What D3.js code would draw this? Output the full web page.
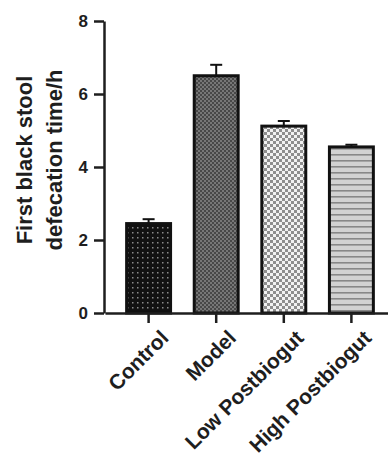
<!DOCTYPE html>
<html>
<head>
<meta charset="utf-8">
<script src="https://cdn.jsdelivr.net/npm/d3@7"></script>
<style>
  body { margin: 0; background: #fff; }
  svg { display: block; }
  .axis text { font-family: "Liberation Sans", Arial, sans-serif; font-weight: bold; fill: #1e1e1e; }
  .axis path, .axis line { stroke: #1e1e1e; }
</style>
</head>
<body>
<div id="chart"></div>
<script>
// groups and their means / SEM
const groups = ["Control", "Model", "Low Postbiogut", "High Postbiogut"];
const means = [2.45, 6.5, 5.12, 4.55];
const errs = [0.12, 0.3, 0.14, 0.06];
const yTicks = [0, 2, 4, 6, 8];
const patternIds = ["pDots", "pFine", "pChecker", "pStripes"];

const width = 388, height = 462;
const margin = { top: 21, left: 104 };
const plotH = 292;

const svg = d3.select("#chart").append("svg")
    .attr("width", width)
    .attr("height", height);

// fill patterns for the bars
const defs = svg.append("defs");

const dots = defs.append("pattern").attr("id", "pDots")
    .attr("patternUnits", "userSpaceOnUse").attr("width", 5).attr("height", 5);
dots.append("rect").attr("width", 5).attr("height", 5).attr("fill", "#111");
dots.append("rect").attr("x", 2).attr("y", 2).attr("width", 1.5).attr("height", 1.5).attr("fill", "#8a8a8a");

const fine = defs.append("pattern").attr("id", "pFine")
    .attr("patternUnits", "userSpaceOnUse").attr("width", 4).attr("height", 4);
fine.append("rect").attr("width", 4).attr("height", 4).attr("fill", "#484848");
fine.append("rect").attr("width", 2).attr("height", 2).attr("fill", "#777");
fine.append("rect").attr("x", 2).attr("y", 2).attr("width", 2).attr("height", 2).attr("fill", "#777");

const checker = defs.append("pattern").attr("id", "pChecker")
    .attr("patternUnits", "userSpaceOnUse").attr("width", 6).attr("height", 6);
checker.append("rect").attr("width", 6).attr("height", 6).attr("fill", "#f2f2f2");
checker.append("rect").attr("width", 3).attr("height", 3).attr("fill", "#8e8e8e");
checker.append("rect").attr("x", 3).attr("y", 3).attr("width", 3).attr("height", 3).attr("fill", "#8e8e8e");

const stripes = defs.append("pattern").attr("id", "pStripes")
    .attr("patternUnits", "userSpaceOnUse").attr("width", 6).attr("height", 6);
stripes.append("rect").attr("width", 6).attr("height", 6).attr("fill", "#d2d2d2");
stripes.append("rect").attr("y", 4).attr("width", 6).attr("height", 1.6).attr("fill", "#888");

// scales
const x = d3.scaleBand()
    .domain(groups)
    .range([105, 395])
    .paddingInner(0.35)
    .paddingOuter(0.32);

const y = d3.scaleLinear()
    .domain([0, 8])
    .range([margin.top + plotH, margin.top]);

// bars
svg.append("g").selectAll("rect")
    .data(groups)
    .join("rect")
    .attr("x", d => x(d))
    .attr("y", (d, i) => y(means[i]))
    .attr("width", x.bandwidth())
    .attr("height", (d, i) => y(0) - y(means[i]))
    .attr("fill", (d, i) => `url(#${patternIds[i]})`)
    .attr("stroke", "#111")
    .attr("stroke-width", 3);

// error bars (upper only)
const eb = svg.append("g").attr("stroke", "#111").attr("stroke-width", 2);
eb.selectAll("line.v")
    .data(groups)
    .join("line")
    .attr("class", "v")
    .attr("x1", d => x(d) + x.bandwidth() / 2)
    .attr("x2", d => x(d) + x.bandwidth() / 2)
    .attr("y1", (d, i) => y(means[i]))
    .attr("y2", (d, i) => y(means[i] + errs[i]));
eb.selectAll("line.cap")
    .data(groups)
    .join("line")
    .attr("class", "cap")
    .attr("x1", d => x(d) + x.bandwidth() / 2 - 6)
    .attr("x2", d => x(d) + x.bandwidth() / 2 + 6)
    .attr("y1", (d, i) => y(means[i] + errs[i]))
    .attr("y2", (d, i) => y(means[i] + errs[i]));

// axes
const yAxisG = svg.append("g")
    .attr("class", "axis y-axis")
    .attr("transform", `translate(${margin.left},0)`)
    .call(d3.axisLeft(y).tickValues(yTicks).tickSize(10).tickPadding(6).tickSizeOuter(0));
yAxisG.selectAll("path, line").attr("stroke-width", 2.5);
yAxisG.selectAll("text").attr("font-size", 17);

const xAxisG = svg.append("g")
    .attr("class", "axis x-axis")
    .attr("transform", `translate(0,${y(0)})`)
    .call(d3.axisBottom(x).tickSize(10).tickSizeOuter(0));
xAxisG.selectAll("path, line").attr("stroke-width", 2.5);
xAxisG.selectAll("text")
    .attr("font-size", 21)
    .attr("text-anchor", "end")
    .attr("dy", 0)
    .attr("transform", "translate(12,17) rotate(-45)");

// y-axis title on two lines
const title = svg.append("text")
    .attr("transform", "translate(0,160) rotate(-90)")
    .attr("text-anchor", "middle")
    .style("font-family", "Liberation Sans, Arial, sans-serif")
    .style("font-weight", "bold")
    .style("font-size", "22px")
    .attr("fill", "#1e1e1e");
title.append("tspan").attr("x", 0).attr("y", 32).text("First black stool");
title.append("tspan").attr("x", 0).attr("y", 62).text("defecation time/h");
</script>
</body>
</html>
